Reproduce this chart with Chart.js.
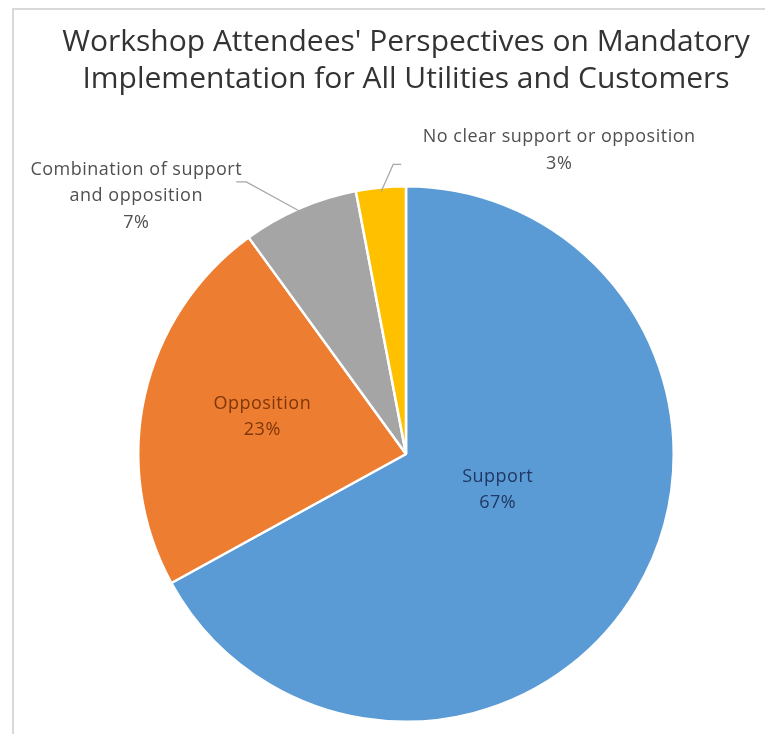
<!DOCTYPE html>
<html>
<head>
<meta charset="utf-8">
<title>Workshop Attendees' Perspectives</title>
<script src="https://cdn.jsdelivr.net/npm/chart.js@4/dist/chart.umd.min.js"></script>
<style>
  html, body { margin: 0; padding: 0; background: #ffffff; }
  #wrap { position: relative; width: 765px; height: 734px; }
</style>
</head>
<body>
<div id="wrap"><canvas id="pie" width="765" height="734"></canvas></div>
<script>
// slice data, clockwise from 12 o'clock
var categories = ['Support', 'Opposition', 'Combination of support and opposition', 'No clear support or opposition'];
var shares = [67, 23, 7, 3];
var sliceColors = ['#5b9bd5', '#ed7d31', '#a5a5a5', '#ffc000'];
// label text broken into lines as shown on the chart
var labelLines = [
	['Support'],
	['Opposition'],
	['Combination of support', 'and opposition'],
	['No clear support or opposition']
];
var titleLines = ["Workshop Attendees' Perspectives on Mandatory", 'Implementation for All Utilities and Customers'];

var FONT = '"Open Sans", "Noto Sans", sans-serif';

// how each slice gets its label: inside at a fraction of the radius (plus a nudge),
// or outside with a leader line (elbow + text offsets from the rim point)
var labelPlacement = [
	{ inside: 0.35, nudge: [11, -12], color: '#1f3864' },
	{ inside: 0.55, nudge: [0, -5], color: '#7f3608' },
	{ elbow: [-55, -30], tail: -10, text: [-165, -16], color: '#505050' },
	{ elbow: [12, -27], tail: 8, text: [178, -41], color: '#505050' }
];

// light frame round the chart box
var framePlugin = {
	id: 'frame',
	beforeDraw: function (chart) {
		var ctx = chart.ctx;
		ctx.save();
		ctx.strokeStyle = '#d9d9d9';
		ctx.lineWidth = 2;
		ctx.beginPath();
		ctx.moveTo(13, chart.height);
		ctx.lineTo(13, 9);
		ctx.lineTo(chart.width, 9);
		ctx.stroke();
		ctx.restore();
	}
};

// data labels drawn from the arc geometry
var sliceLabelPlugin = {
	id: 'sliceLabels',
	afterDatasetsDraw: function (chart) {
		var ctx = chart.ctx,
			meta = chart.getDatasetMeta(0),
			lineH = 26.5;

		ctx.save();
		ctx.font = '18px ' + FONT;
		ctx.letterSpacing = '0.5px';
		ctx.textAlign = 'center';
		ctx.textBaseline = 'middle';

		meta.data.forEach(function (arc, i) {
			var p = arc.getProps(['x', 'y', 'startAngle', 'endAngle', 'outerRadius'], true),
				mid = (p.startAngle + p.endAngle) / 2,
				place = labelPlacement[i],
				lines = labelLines[i].concat([shares[i] + '%']),
				cx, cy;

			if (place.inside) {
				cx = p.x + Math.cos(mid) * p.outerRadius * place.inside + place.nudge[0];
				cy = p.y + Math.sin(mid) * p.outerRadius * place.inside + place.nudge[1];
			} else {
				var rx = p.x + Math.cos(mid) * (p.outerRadius - 4),
					ry = p.y + Math.sin(mid) * (p.outerRadius - 4),
					ex = rx + place.elbow[0],
					ey = ry + place.elbow[1];

				ctx.strokeStyle = '#a6a6a6';
				ctx.lineWidth = 1.2;
				ctx.beginPath();
				ctx.moveTo(rx, ry);
				ctx.lineTo(ex, ey);
				ctx.lineTo(ex + place.tail, ey);
				ctx.stroke();

				cx = rx + place.text[0];
				cy = ry + place.text[1];
			}

			ctx.fillStyle = place.color;
			var top = cy - (lines.length - 1) * lineH / 2;
			lines.forEach(function (t, k) {
				ctx.fillText(t, cx, top + k * lineH);
			});
		});
		ctx.restore();
	}
};

new Chart(document.getElementById('pie'), {
	type: 'pie',
	data: {
		labels: categories,
		datasets: [{
			data: shares,
			backgroundColor: sliceColors,
			borderColor: '#ffffff',
			borderWidth: 2.5
		}]
	},
	options: {
		responsive: false,
		animation: false,
		layout: { padding: { left: 47, right: 0, top: 0, bottom: 11 } },
		plugins: {
			legend: { display: false },
			tooltip: { enabled: false },
			title: {
				display: true,
				text: titleLines,
				color: '#333333',
				font: { family: FONT, size: 30, weight: 'normal', lineHeight: 1.233 },
				padding: { top: 24, bottom: 87 }
			}
		}
	},
	plugins: [framePlugin, sliceLabelPlugin]
});
</script>
</body>
</html>
